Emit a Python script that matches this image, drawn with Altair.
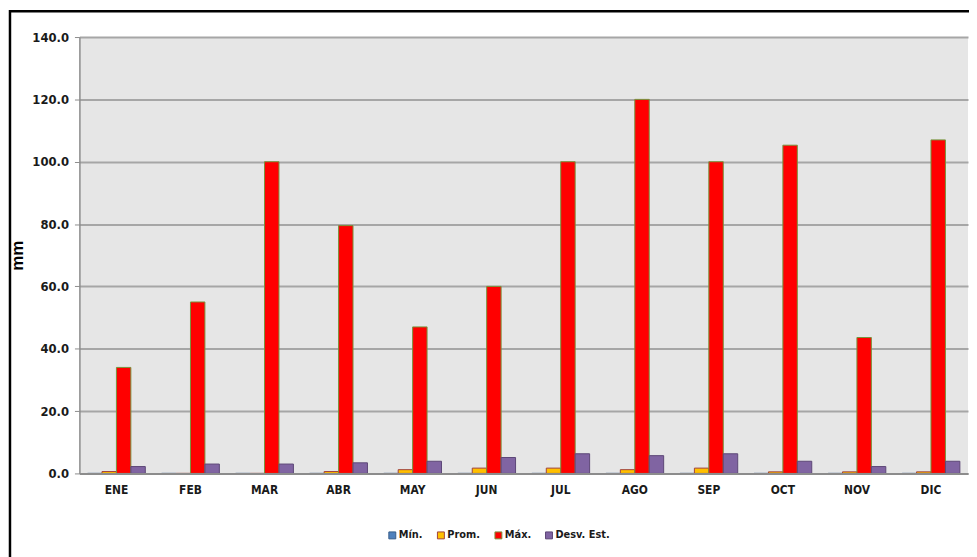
import altair as alt
import pandas as pd

months = ["ENE", "FEB", "MAR", "ABR", "MAY", "JUN", "JUL", "AGO", "SEP", "OCT", "NOV", "DIC"]
series = ["Mín.", "Prom.", "Máx.", "Desv. Est."]
v_min = [0.0, 0.0, 0.0, 0.0, 0.0, 0.0, 0.0, 0.0, 0.0, 0.0, 0.0, 0.0]
v_prom = [0.6, 0.0, 0.0, 0.6, 1.2, 1.7, 1.7, 1.2, 1.7, 0.5, 0.5, 0.5]
v_max = [34.0, 55.0, 100.0, 79.5, 47.0, 60.0, 100.0, 120.0, 100.0, 105.3, 43.6, 107.0]
v_desv = [2.2, 3.0, 3.0, 3.4, 3.9, 5.1, 6.3, 5.7, 6.3, 3.9, 2.2, 3.9]

fills = ["#4F81BD", "#FFC000", "#FF0000", "#8064A2"]
strokes = ["#385D8A", "#A0413C", "#77933C", "#5C4776"]

rows = []
for name, vals in zip(series, [v_min, v_prom, v_max, v_desv]):
    for m, v in zip(months, vals):
        rows.append({"Mes": m, "Serie": name, "mm": v})
df = pd.DataFrame(rows)

FONT = "Liberation Sans Narrow, DejaVu Sans Condensed, sans-serif"

bars = alt.Chart(df).mark_bar(strokeWidth=1).encode(
    x=alt.X("Mes:N", sort=months, title=None,
            scale=alt.Scale(paddingInner=0.22, paddingOuter=0.11),
            axis=alt.Axis(labelAngle=0, ticks=False, domainColor="#8C8C8C", domainWidth=2,
                          labelPadding=11, labelFontSize=12, labelFont=FONT,
                          labelFontWeight="bold", labelColor="#1a1a1a", zindex=1, grid=False)),
    xOffset=alt.XOffset("Serie:N", sort=series, scale=alt.Scale(paddingInner=0, paddingOuter=0)),
    y=alt.Y("mm:Q", title="mm",
            scale=alt.Scale(domain=[0, 140], nice=False),
            axis=alt.Axis(values=[0, 20, 40, 60, 80, 100, 120, 140], format=".1f",
                          tickSize=5, tickColor="#8C8C8C", domainColor="#8C8C8C", domainWidth=1.5,
                          gridColor="#A6A6A6", gridWidth=2, labelPadding=6,
                          labelFontSize=13, labelFont=FONT, labelFontWeight="bold",
                          labelColor="#1a1a1a", titleFontSize=17, titleFont="Liberation Sans",
                          titleFontWeight="bold", titleColor="#000000", titlePadding=5)),
    fill=alt.Fill("Serie:N", sort=series, title=None,
                  scale=alt.Scale(domain=series, range=fills),
                  legend=alt.Legend(orient="none", direction="horizontal", legendX=310, legendY=497,
                                    symbolType="square", symbolSize=49, symbolStrokeWidth=1,
                                    labelFont=FONT, labelFontSize=11, labelFontWeight="bold",
                                    labelColor="#1a1a1a", labelOffset=1, columnPadding=12,
                                    padding=0)),
    stroke=alt.Stroke("Serie:N", sort=series, title=None,
                      scale=alt.Scale(domain=series, range=strokes)),
)

frame = alt.Chart(pd.DataFrame({"a": [0]})).mark_rect(
    fill=None, stroke="#000000", strokeWidth=2.5, clip=False
).encode(x=alt.value(-70), x2=alt.value(960), y=alt.value(-26), y2=alt.value(700))

chart = alt.layer(bars, frame).properties(
    width=896, height=440,
    padding={"left": 72, "top": 27, "right": 1, "bottom": 82},
    autosize=alt.AutoSizeParams(type="none"),
    background="#FFFFFF",
).configure_view(fill="#E6E6E6", stroke=None)

chart.save("out.html", embed_options={"renderer": "svg", "actions": False})
